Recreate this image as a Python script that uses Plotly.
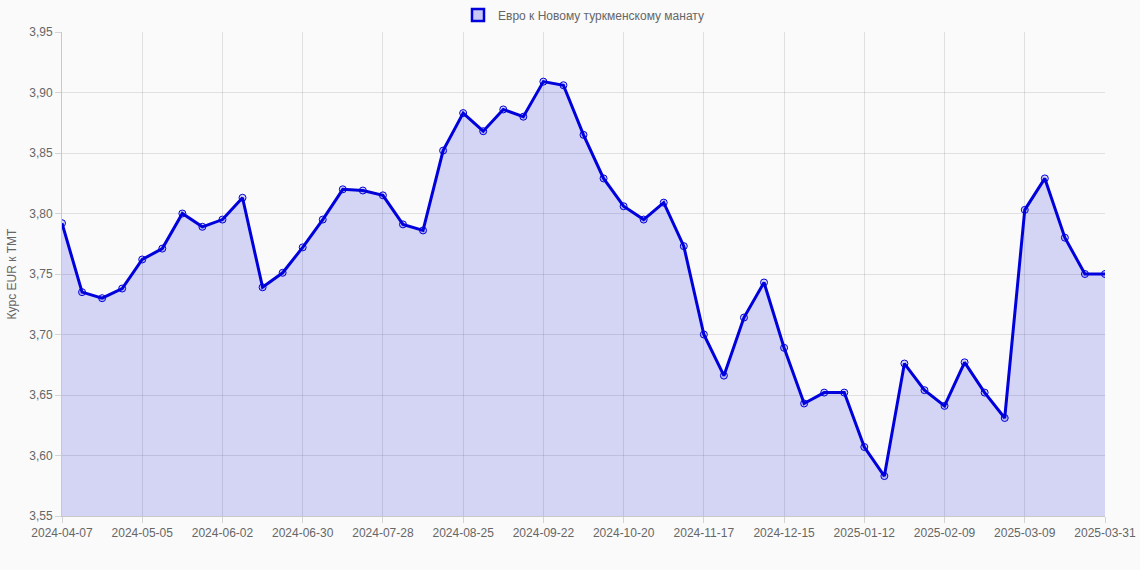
import plotly.graph_objects as go

# weekly dates, last label is the final day of the period
dates = [
    "2024-04-07", "2024-04-14", "2024-04-21", "2024-04-28",
    "2024-05-05", "2024-05-12", "2024-05-19", "2024-05-26",
    "2024-06-02", "2024-06-09", "2024-06-16", "2024-06-23",
    "2024-06-30", "2024-07-07", "2024-07-14", "2024-07-21",
    "2024-07-28", "2024-08-04", "2024-08-11", "2024-08-18",
    "2024-08-25", "2024-09-01", "2024-09-08", "2024-09-15",
    "2024-09-22", "2024-09-29", "2024-10-06", "2024-10-13",
    "2024-10-20", "2024-10-27", "2024-11-03", "2024-11-10",
    "2024-11-17", "2024-11-24", "2024-12-01", "2024-12-08",
    "2024-12-15", "2024-12-22", "2024-12-29", "2025-01-05",
    "2025-01-12", "2025-01-19", "2025-01-26", "2025-02-02",
    "2025-02-09", "2025-02-16", "2025-02-23", "2025-03-02",
    "2025-03-09", "2025-03-16", "2025-03-23", "2025-03-30",
    "2025-03-31",
]

eur_tmt = [
    3.792, 3.735, 3.730, 3.738, 3.762, 3.771, 3.800, 3.789,
    3.795, 3.813, 3.739, 3.751, 3.772, 3.795, 3.820, 3.819,
    3.815, 3.791, 3.786, 3.852, 3.883, 3.868, 3.886, 3.880,
    3.909, 3.906, 3.865, 3.829, 3.806, 3.795, 3.809, 3.773,
    3.700, 3.666, 3.714, 3.743, 3.689, 3.643, 3.652, 3.652,
    3.607, 3.583, 3.676, 3.654, 3.641, 3.677, 3.652, 3.631,
    3.803, 3.829, 3.780, 3.750, 3.750,
]

tick_dates = dates[0:52:4] + [dates[-1]]
y_ticks = [3.55, 3.60, 3.65, 3.70, 3.75, 3.80, 3.85, 3.90, 3.95]

series_name = "Евро к Новому туркменскому манату"
line_color = "#0000dc"
fill_color = "rgba(0,0,220,0.15)"

fig = go.Figure()
fig.add_trace(go.Scatter(
    x=dates,
    y=eur_tmt,
    name=series_name,
    mode="lines+markers",
    line=dict(color=line_color, width=3),
    marker=dict(size=7, color=fill_color, line=dict(color=line_color, width=1)),
    fill="tozeroy",
    fillcolor=fill_color,
    showlegend=False,
))

# legend entry only, gives a boxed swatch like the original
fig.add_trace(go.Bar(
    x=[None],
    y=[None],
    name=series_name,
    marker=dict(color="rgba(0,0,220,0.2)", line=dict(color=line_color, width=2.5)),
    showlegend=True,
))

fig.update_layout(
    width=1140,
    height=570,
    margin=dict(l=62, r=35, t=32, b=54, autoexpand=False),
    paper_bgcolor="#fafafa",
    plot_bgcolor="#fafafa",
    separators=", ",
    font=dict(family="Liberation Sans, Arial, sans-serif", size=12, color="#666"),
    legend=dict(orientation="h", x=0.5, xanchor="center", y=1.005, yanchor="bottom",
                font=dict(size=12, color="#666"), bgcolor="rgba(0,0,0,0)"),
)

fig.update_xaxes(
    type="category",
    range=[0, len(dates) - 1],
    tickmode="array",
    tickvals=tick_dates,
    ticktext=tick_dates,
    tickangle=0,
    showgrid=True,
    gridcolor="rgba(0,0,0,0.1)",
    showline=True,
    linecolor="rgba(0,0,0,0.2)",
    ticks="outside",
    ticklen=6,
    tickcolor="rgba(0,0,0,0.15)",
    zeroline=False,
    automargin=False,
)

fig.update_yaxes(
    range=[3.55, 3.95],
    tickmode="array",
    tickvals=y_ticks,
    tickformat=".2f",
    showgrid=True,
    gridcolor="rgba(0,0,0,0.1)",
    showline=True,
    linecolor="rgba(0,0,0,0.2)",
    ticks="outside",
    ticklen=6,
    tickcolor="rgba(0,0,0,0.15)",
    zeroline=False,
    automargin=False,
    title=dict(text="Курс EUR к TMT", font=dict(size=12, color="#666"), standoff=10),
)

fig.write_html("out.html", config={"displayModeBar": False},
               post_script="document.body.style.margin='0';")
